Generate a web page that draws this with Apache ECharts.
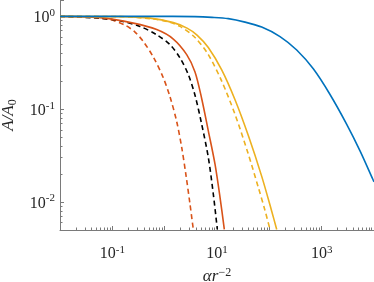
<!DOCTYPE html>
<html><head><meta charset="utf-8">
<script src="https://cdn.jsdelivr.net/npm/echarts@6/dist/echarts.min.js"></script>
<style>html,body{margin:0;padding:0;background:#fff}#c{width:374px;height:282px}</style>
</head><body><div id="c"></div>
<script>
// x: alpha r^-2, y: A/A0
const blueX = [0.01, 0.525, 3.80, 8.03, 16.45, 34.3, 71.5, 160, 333.6, 692, 1444, 3011, 5405, 9452, 10000];
const blueY = [1, 1, 0.993, 0.976, 0.945, 0.867, 0.766, 0.606, 0.434, 0.272, 0.144, 0.0687, 0.0356, 0.0177, 0.0165];
const yellowSolidX = [0.01, 0.140, 0.525, 1.463, 2.673, 4.150, 6.824, 12.30, 22.09, 39.67, 71.53, 111.0, 138.4];
const yellowSolidY = [1, 0.993, 0.9565, 0.856, 0.747, 0.629, 0.462, 0.265, 0.1264, 0.0520, 0.0189, 0.00797, 0.00507];
const yellowDashX = [0.01, 0.140, 0.525, 1.094, 1.964, 3.80, 6.824, 12.30, 22.09, 39.67, 61.55, 82.67, 103.0];
const yellowDashY = [1, 0.993, 0.945, 0.882, 0.779, 0.591, 0.387, 0.2006, 0.0880, 0.0328, 0.0144, 0.00811, 0.00507];
const redSolidX = [0.01, 0.0581, 0.2516, 0.7046, 1.463, 2.638, 3.80, 5.104, 6.824, 9.162, 11.42, 13.80];
const redSolidY = [1, 0.968, 0.846, 0.720, 0.570, 0.387, 0.252, 0.1296, 0.0584, 0.0256, 0.01125, 0.00507];
const blackDashX = [0.01, 0.0581, 0.140, 0.3378, 0.7046, 1.265, 1.964, 2.830, 3.80, 5.104, 6.824, 8.503, 10.14];
const blackDashY = [1, 0.9565, 0.895, 0.779, 0.633, 0.495, 0.356, 0.236, 0.1413, 0.0687, 0.0302, 0.0122, 0.00507];
const redDashX = [0.01, 0.0374, 0.0903, 0.1746, 0.2711, 0.3907, 0.6066, 0.942, 1.265, 1.699, 2.117, 2.557, 3.050, 3.526];
const redDashY = [1, 0.980, 0.922, 0.805, 0.677, 0.536, 0.365, 0.2176, 0.1361, 0.0735, 0.0387, 0.0194, 0.00947, 0.00507];

const xLabelExps = [-1, 1, 3];
const yLabelExps = [-2, -1, 0];

const zip = (xs, ys) => xs.map((x, i) => [x, ys[i]]);
const FONT = 'Liberation Serif';
const TXT = '#262626';
const AX = '#7a7a7a';

function expLabel(allowed) {
  return function (v) {
    const l = Math.log10(v);
    const e = Math.round(l);
    if (Math.abs(l - e) > 1e-6 || allowed.indexOf(e) < 0) return '';
    return '{b|10}{s|' + e + '}';
  };
}
const richX = {
  b: { fontFamily: FONT, fontSize: 16, color: TXT, lineHeight: 18 },
  s: { fontFamily: FONT, fontSize: 11, color: TXT, lineHeight: 10, verticalAlign: 'top' }
};
const richY = {
  b: { fontFamily: FONT, fontSize: 16, color: TXT, lineHeight: 18, padding: [3, 0, 0, 0] },
  s: { fontFamily: FONT, fontSize: 11, color: TXT, lineHeight: 10, verticalAlign: 'top' }
};

function line(xs, ys, color, dashed) {
  return {
    type: 'line', data: zip(xs, ys), showSymbol: false, smooth: 0.3,
    animation: false,
    lineStyle: { color: color, width: 1.6, type: dashed ? [5, 3.5] : 'solid' }
  };
}

const chart = echarts.init(document.getElementById('c'), null, { renderer: 'canvas' });
chart.setOption({
  animation: false,
  backgroundColor: '#fff',
  grid: { left: 60, right: 0, top: 0, bottom: 52, containLabel: false, outerBoundsMode: 'none' },
  xAxis: {
    type: 'log', logBase: 10, min: 0.01, max: 10000,
    axisLine: { show: true, lineStyle: { color: AX, width: 1 } },
    axisTick: { show: true, inside: true, length: 4, lineStyle: { color: AX } },
    minorTick: { show: true, splitNumber: 9, length: 2.5, lineStyle: { color: AX } },
    splitLine: { show: false },
    axisLabel: { formatter: expLabel(xLabelExps), rich: richX, margin: 15, showMinLabel: true, showMaxLabel: true },
    name: '{i|αr}{s|−2}', nameLocation: 'middle', nameGap: 47, nameMoveOverlap: false,
    nameTextStyle: { verticalAlign: 'middle', rich: {
      i: { fontFamily: FONT, fontStyle: 'italic', fontSize: 17, color: TXT, lineHeight: 20 },
      s: { fontFamily: FONT, fontSize: 12, color: TXT, lineHeight: 12, verticalAlign: 'top' }
    } }
  },
  yAxis: {
    type: 'log', logBase: 10, min: 0.005, max: 1.5,
    axisLine: { show: true, lineStyle: { color: AX, width: 1 } },
    axisTick: { show: true, inside: true, length: 4, lineStyle: { color: AX } },
    minorTick: { show: true, splitNumber: 9, length: 2.5, lineStyle: { color: AX } },
    splitLine: { show: false },
    axisLabel: { formatter: expLabel(yLabelExps), rich: richY, margin: 5 },
    name: '{i|A/A}{u|0}', nameLocation: 'middle', nameGap: 40, nameRotate: 90,
    nameTextStyle: { rich: {
      i: { fontFamily: FONT, fontStyle: 'italic', fontSize: 17, color: TXT, lineHeight: 20 },
      u: { fontFamily: FONT, fontSize: 12, color: TXT, lineHeight: 12, verticalAlign: 'bottom' }
    } }
  },
  series: [
    line(redDashX, redDashY, '#D95319', true),
    line(blackDashX, blackDashY, '#000000', true),
    line(redSolidX, redSolidY, '#D95319', false),
    line(yellowDashX, yellowDashY, '#EDB120', true),
    line(yellowSolidX, yellowSolidY, '#EDB120', false),
    line(blueX, blueY, '#0072BD', false)
  ]
});
</script>
</body></html>
